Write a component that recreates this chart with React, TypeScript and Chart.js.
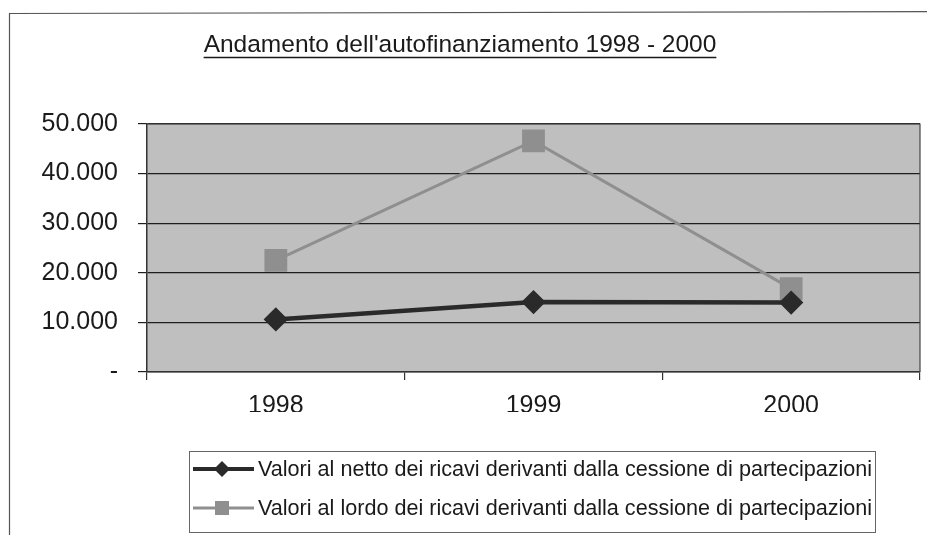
import React, { useEffect, useRef } from 'react';
import { Chart, registerables } from 'chart.js';

Chart.register(...registerables);

const titleText = "Andamento dell'autofinanziamento 1998 - 2000";
const categories = ['1998', '1999', '2000'];
const nettoValues = [10600, 14100, 14000];
const lordoValues = [22500, 46600, 16800];
const seriesLabels = [
  'Valori al netto dei ricavi derivanti dalla cessione di partecipazioni',
  'Valori al lordo dei ricavi derivanti dalla cessione di partecipazioni',
];
const yMin = 0;
const yMax = 50000;
const yStep = 10000;

const FONT = '"Liberation Sans", Arial, sans-serif';

function formatTick(v: number): string {
  if (v === 0) return '-';
  const s = String(Math.round(v));
  return s.replace(/\B(?=(\d{3})+(?!\d))/g, '.');
}

const decorPlugin = {
  id: 'decor',
  beforeDraw(chart: any) {
    const { ctx, chartArea } = chart;
    ctx.save();
    ctx.fillStyle = '#ffffff';
    ctx.fillRect(0, 0, chart.width, chart.height);
    ctx.strokeStyle = '#555555';
    ctx.lineWidth = 1.2;
    ctx.beginPath();
    ctx.moveTo(9.5, 560);
    ctx.lineTo(9.5, 13.5);
    ctx.lineTo(940, 11.5);
    ctx.stroke();
    ctx.fillStyle = '#bfbfbf';
    ctx.fillRect(chartArea.left, chartArea.top, chartArea.right - chartArea.left, chartArea.bottom - chartArea.top);
    ctx.restore();
  },
  afterDraw(chart: any) {
    const { ctx, chartArea } = chart;
    ctx.save();
    ctx.strokeStyle = '#444444';
    ctx.lineWidth = 1.2;
    ctx.beginPath();
    ctx.moveTo(chartArea.left, chartArea.top);
    ctx.lineTo(chartArea.right, chartArea.top);
    ctx.lineTo(chartArea.right, chartArea.bottom);
    ctx.stroke();

    ctx.font = `24.5px ${FONT}`;
    ctx.fillStyle = '#1a1a1a';
    ctx.textAlign = 'center';
    ctx.textBaseline = 'alphabetic';
    const tx = 460;
    const ty = 52;
    ctx.fillText(titleText, tx, ty);
    const w = ctx.measureText(titleText).width;
    ctx.strokeStyle = '#1a1a1a';
    ctx.lineWidth = 1.6;
    ctx.beginPath();
    ctx.moveTo(tx - w / 2, ty + 5.5);
    ctx.lineTo(tx + w / 2, ty + 5.5);
    ctx.stroke();

    const lx = 189.5;
    const ly = 451.5;
    const lw = 686;
    const lh = 81;
    ctx.strokeStyle = '#666666';
    ctx.lineWidth = 1;
    ctx.strokeRect(lx, ly, lw, lh);
    const rows = [469, 508];
    chart.data.datasets.forEach((ds: any, i: number) => {
      const y = rows[i];
      ctx.strokeStyle = ds.borderColor;
      ctx.lineWidth = i === 0 ? 4 : 3;
      ctx.beginPath();
      ctx.moveTo(193, y);
      ctx.lineTo(254, y);
      ctx.stroke();
      ctx.fillStyle = ds.pointBackgroundColor;
      if (i === 0) {
        const r = 8;
        ctx.beginPath();
        ctx.moveTo(222 - r, y);
        ctx.lineTo(222, y - r);
        ctx.lineTo(222 + r, y);
        ctx.lineTo(222, y + r);
        ctx.closePath();
        ctx.fill();
      } else {
        ctx.fillRect(222 - 7, y - 7, 14, 14);
      }
      ctx.fillStyle = '#1a1a1a';
      ctx.font = `21.6px ${FONT}`;
      ctx.textAlign = 'left';
      ctx.textBaseline = 'middle';
      ctx.fillText(ds.label, 258, y + 1);
    });
    ctx.restore();
  },
};

export default function App() {
  const ref = useRef<HTMLCanvasElement | null>(null);
  useEffect(() => {
    if (!ref.current) return;
    const chart = new Chart(ref.current, {
      type: 'line',
      data: {
        labels: categories,
        datasets: [
          {
            label: seriesLabels[0],
            data: nettoValues,
            borderColor: '#2a2a2a',
            backgroundColor: '#2a2a2a',
            pointBackgroundColor: '#2a2a2a',
            pointBorderColor: '#2a2a2a',
            borderWidth: 4.5,
            pointStyle: 'rectRot',
            pointRadius: 9,
            tension: 0,
          },
          {
            label: seriesLabels[1],
            data: lordoValues,
            borderColor: '#8f8f8f',
            backgroundColor: '#8f8f8f',
            pointBackgroundColor: '#8f8f8f',
            pointBorderColor: '#8f8f8f',
            borderWidth: 3,
            pointStyle: 'rect',
            pointRadius: 14,
            tension: 0,
          },
        ],
      },
      options: {
        responsive: false,
        animation: false,
        events: [],
        layout: { autoPadding: false, padding: { left: 0, top: 124, right: 7, bottom: 123 } },
        plugins: { legend: { display: false }, title: { display: false }, tooltip: { enabled: false } },
        scales: {
          x: {
            offset: true,
            grid: { offset: true, drawOnChartArea: false, tickLength: 8, color: '#333333', lineWidth: 1.2 },
            border: { color: '#333333', width: 1.5 },
            ticks: { color: '#1a1a1a', font: { family: FONT, size: 25 }, padding: 11 },
            afterFit(scale: any) {
              scale.height = 40;
              scale.paddingLeft = 0;
              scale.paddingRight = 0;
            },
          },
          y: {
            min: yMin,
            max: yMax,
            grid: { color: '#1e1e1e', lineWidth: 1.2, tickLength: 9 },
            border: { color: '#333333', width: 1.5 },
            ticks: {
              stepSize: yStep,
              color: '#1a1a1a',
              font: { family: FONT, size: 25 },
              padding: 20,
              callback: (v: any) => formatTick(Number(v)),
            },
            afterFit(scale: any) { scale.width = 147; },
          },
        },
      },
      plugins: [decorPlugin],
    });
    return () => chart.destroy();
  }, []);
  return (
    <div style={{ position: 'fixed', left: 0, top: 0, width: 927, height: 535, background: '#fff' }}>
      <canvas ref={ref} width={927} height={535} style={{ display: 'block' }} />
    </div>
  );
}
